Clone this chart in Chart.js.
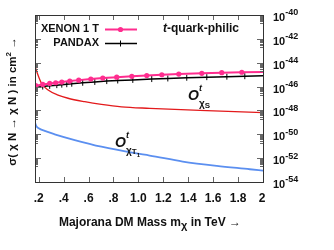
<!DOCTYPE html>
<html>
<head>
<meta charset="utf-8">
<script src="https://cdn.jsdelivr.net/npm/chart.js@4"></script>
<style>
  html, body { margin: 0; padding: 0; background: #fff; }
  #wrap { width: 334px; height: 250px; }
</style>
</head>
<body>
<div id="wrap"><canvas id="chart" width="334" height="250"></canvas></div>
<script>
// DM mass (TeV) and cross sections (cm^2)
const massXenon = [0.176, 0.232, 0.288, 0.336, 0.385, 0.449, 0.521, 0.618, 0.714, 0.826, 0.947, 1.067, 1.188, 1.324, 1.509, 1.669, 1.830, 2.0];
const sigmaXenon = [1.20e-46, 1.51e-46, 1.82e-46, 2.09e-46, 2.40e-46, 2.88e-46, 3.47e-46, 4.27e-46, 5.13e-46, 6.17e-46, 7.24e-46, 8.51e-46, 9.77e-46, 1.12e-45, 1.29e-45, 1.45e-45, 1.58e-45, 1.70e-45];

const massPandax = [0.176, 0.232, 0.288, 0.345, 0.385, 0.425, 0.465, 0.553, 0.650, 0.746, 0.834, 0.955, 1.107, 1.236, 1.388, 1.549, 1.710, 1.854, 2.0];
const sigmaPandax = [8.3e-47, 1.0e-46, 1.15e-46, 1.32e-46, 1.45e-46, 1.58e-46, 1.74e-46, 2.09e-46, 2.45e-46, 2.88e-46, 3.24e-46, 3.63e-46, 4.27e-46, 4.79e-46, 5.5e-46, 6.17e-46, 6.76e-46, 7.41e-46, 7.94e-46];

const massScalar = [0.172, 0.194, 0.222, 0.275, 0.355, 0.435, 0.569, 0.703, 0.864, 1.091, 1.493, 2.0];
const sigmaScalar = [4.4e-45, 9.3e-46, 1.9e-46, 5.1e-47, 1.95e-47, 1.05e-47, 5.4e-48, 3.2e-48, 2.0e-48, 1.5e-48, 1.0e-48, 6.5e-49];

const massTensor = [0.172, 0.18, 0.2, 0.248, 0.328, 0.489, 0.703, 0.971, 1.09, 1.356, 1.629, 1.894, 2.0];
const sigmaTensor = [8.3e-50, 5.0e-50, 3.2e-50, 1.9e-50, 1.0e-50, 3.3e-51, 9.1e-52, 2.6e-52, 1.66e-52, 5.2e-53, 2.24e-53, 1.17e-53, 8.9e-54];

const xTicks = [0.2, 0.4, 0.6, 0.8, 1.0, 1.2, 1.4, 1.6, 1.8, 2.0];
const xTickLabels = [".2", ".4", ".6", ".8", "1.0", "1.2", "1.4", "1.6", "1.8", "2"];
const yExponents = [-40, -42, -44, -46, -48, -50, -52, -54];

const FONT = "'Liberation Sans', Arial, sans-serif";

function pts(xs, ys) {
  return xs.map((x, i) => ({ x: x, y: ys[i] }));
}

// draw a run of text pieces with their own font and vertical shift
function rich(ctx, parts, x, y, align) {
  let w = 0;
  parts.forEach(p => { ctx.font = p.font; w += ctx.measureText(p.t).width; });
  let cx = align === "center" ? x - w / 2 : align === "right" ? x - w : x;
  ctx.textAlign = "left";
  ctx.textBaseline = "middle";
  parts.forEach(p => {
    ctx.font = p.font;
    ctx.fillText(p.t, cx, y + (p.dy || 0));
    cx += ctx.measureText(p.t).width;
  });
}

const decor = {
  id: "decor",
  afterDraw(chart) {
    const ctx = chart.ctx;
    const a = chart.chartArea;
    const xs = chart.scales.x;
    const ys = chart.scales.y;
    ctx.save();

    // tick marks inside the frame
    ctx.strokeStyle = "#666";
    ctx.lineWidth = 1;
    xTicks.forEach(v => {
      const px = Math.round(xs.getPixelForValue(v)) + 0.5;
      ctx.beginPath();
      ctx.moveTo(px, a.bottom); ctx.lineTo(px, a.bottom - 5);
      ctx.moveTo(px, a.top); ctx.lineTo(px, a.top + 5);
      ctx.stroke();
    });
    for (let e = -54; e <= -40; e++) {
      if (e % 2 === 0) {
        const py = Math.round(ys.getPixelForValue(Math.pow(10, e))) + 0.5;
        ctx.beginPath();
        ctx.moveTo(a.left, py); ctx.lineTo(a.left + 6, py);
        ctx.moveTo(a.right, py); ctx.lineTo(a.right - 6, py);
        ctx.stroke();
      } else {
        for (let k = 2; k <= 9; k++) {
          const py = Math.round(ys.getPixelForValue(k * Math.pow(10, e))) + 0.5;
          ctx.beginPath();
          ctx.moveTo(a.left, py); ctx.lineTo(a.left + 3, py);
          ctx.moveTo(a.right, py); ctx.lineTo(a.right - 3, py);
          ctx.stroke();
        }
      }
    }

    // frame
    ctx.strokeStyle = "#333";
    ctx.strokeRect(a.left + 0.5, a.top + 0.5, a.right - a.left, a.bottom - a.top);

    ctx.fillStyle = "#111";
    // x tick labels
    ctx.font = "bold 12px " + FONT;
    ctx.textAlign = "center";
    ctx.textBaseline = "middle";
    xTicks.forEach((v, i) => {
      let px = xs.getPixelForValue(v);
      if (i === xTicks.length - 1) px -= 1;
      ctx.fillText(xTickLabels[i], px, 199);
    });

    // right axis labels 10^n
    yExponents.forEach(e => {
      const py = ys.getPixelForValue(Math.pow(10, e));
      rich(ctx, [
        { t: "10", font: "bold 11px " + FONT, dy: 3 },
        { t: String(e), font: "bold 9px " + FONT, dy: -2 }
      ], 273, py, "left");
    });

    // x title
    rich(ctx, [
      { t: "Majorana DM Mass m", font: "bold 12px " + FONT },
      { t: "\u03c7", font: "bold 11px " + FONT, dy: 3 },
      { t: " in TeV \u2192", font: "bold 12px " + FONT }
    ], 150, 223, "center");

    // y title, rotated
    ctx.save();
    ctx.translate(13, (a.top + a.bottom) / 2 + 3);
    ctx.rotate(-Math.PI / 2);
    rich(ctx, [
      { t: "\u03c3( \u03c7 N \u2192 \u03c7 N ) in cm", font: "bold 11.5px " + FONT },
      { t: "2", font: "bold 8px " + FONT, dy: -4 },
      { t: " \u2192", font: "bold 11.5px " + FONT }
    ], 0, 0, "center");
    ctx.restore();

    // legend
    ctx.font = "bold 11px " + FONT;
    ctx.textAlign = "right";
    ctx.fillText("XENON 1 T", 99, 29);
    ctx.fillText("PANDAX", 99, 43);
    ctx.strokeStyle = "#ff2d8f";
    ctx.lineWidth = 2;
    ctx.beginPath(); ctx.moveTo(105, 29.5); ctx.lineTo(137, 29.5); ctx.stroke();
    ctx.fillStyle = "#ff2d8f";
    ctx.beginPath(); ctx.arc(120.5, 29.5, 2.6, 0, Math.PI * 2); ctx.fill();
    ctx.strokeStyle = "#000";
    ctx.lineWidth = 1.5;
    ctx.beginPath(); ctx.moveTo(105, 43.5); ctx.lineTo(137, 43.5); ctx.stroke();
    ctx.lineWidth = 1;
    ctx.beginPath(); ctx.moveTo(120.5, 40.5); ctx.lineTo(120.5, 46.5); ctx.stroke();

    // panel tag
    ctx.fillStyle = "#111";
    rich(ctx, [
      { t: "t", font: "italic bold 12px " + FONT },
      { t: "-quark-philic", font: "bold 12px " + FONT }
    ], 163, 29, "left");

    // operator labels
    rich(ctx, [
      { t: "O", font: "italic bold 14px " + FONT },
      { t: "t", font: "italic bold 9px " + FONT, dy: -7 }
    ], 188, 96, "left");
    rich(ctx, [
      { t: "\u03c7", font: "bold 10px " + FONT },
      { t: "S", font: "bold 8px " + FONT, dy: 2 }
    ], 199, 104, "left");

    rich(ctx, [
      { t: "O", font: "italic bold 14px " + FONT },
      { t: "t", font: "italic bold 9px " + FONT, dy: -7 }
    ], 115, 143, "left");
    rich(ctx, [
      { t: "\u03c7", font: "bold 10px " + FONT },
      { t: "T", font: "bold 8px " + FONT, dy: 1 },
      { t: "1", font: "bold 6px " + FONT, dy: 4 }
    ], 126, 151, "left");

    ctx.restore();
  }
};

new Chart(document.getElementById("chart").getContext("2d"), {
  type: "line",
  data: {
    datasets: [
      {
        label: "XENON 1 T",
        data: pts(massXenon, sigmaXenon),
        borderColor: "#ff2d8f",
        backgroundColor: "#ff2d8f",
        borderWidth: 2,
        pointRadius: massXenon.map((m, i) => i === massXenon.length - 1 ? 0 : 2.6),
        pointBorderWidth: 0,
        tension: 0
      },
      {
        label: "PANDAX",
        data: pts(massPandax, sigmaPandax),
        borderColor: "#000",
        backgroundColor: "#000",
        borderWidth: 1.5,
        pointStyle: "line",
        pointRotation: 90,
        pointRadius: massPandax.map((m, i) => i === massPandax.length - 1 ? 0 : 3),
        pointBorderWidth: 1,
        tension: 0
      },
      {
        label: "scalar",
        data: pts(massScalar, sigmaScalar),
        borderColor: "#e31a1c",
        borderWidth: 1.3,
        pointRadius: 0,
        cubicInterpolationMode: "monotone"
      },
      {
        label: "tensor",
        data: pts(massTensor, sigmaTensor),
        borderColor: "#5b8ff0",
        borderWidth: 1.8,
        pointRadius: 0,
        cubicInterpolationMode: "monotone"
      }
    ]
  },
  options: {
    responsive: false,
    animation: false,
    maintainAspectRatio: false,
    layout: { padding: { top: 15, right: 71, left: 0, bottom: 0 } },
    plugins: { legend: { display: false }, tooltip: { enabled: false } },
    scales: {
      x: {
        type: "linear",
        min: 0.17,
        max: 2.0,
        grid: { display: false },
        border: { display: false },
        ticks: { display: false },
        afterFit(scale) { scale.height = 68; }
      },
      y: {
        type: "logarithmic",
        min: 1e-54,
        max: 1e-40,
        grid: { display: false },
        border: { display: false },
        ticks: { display: false },
        afterFit(scale) { scale.width = 35; }
      }
    }
  },
  plugins: [decor]
});
</script>
</body>
</html>
